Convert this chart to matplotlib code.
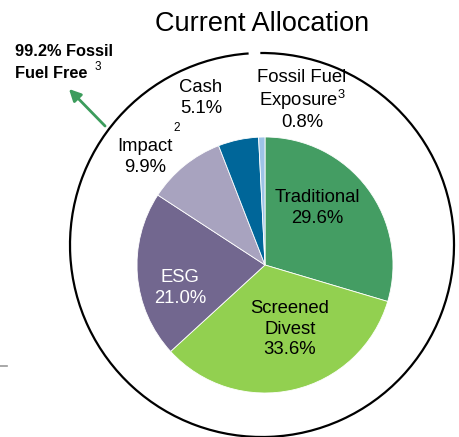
import matplotlib.pyplot as plt
from matplotlib.patches import Arc

plt.rcParams['font.family'] = ['Liberation Sans', 'DejaVu Sans']
plt.rcParams['mathtext.fontset'] = 'custom'
plt.rcParams['mathtext.rm'] = 'Liberation Sans'
plt.rcParams['mathtext.it'] = 'Liberation Sans'
plt.rcParams['mathtext.bf'] = 'Liberation Sans:bold'

# allocation, clockwise from the top
categories = ['Traditional', 'Screened\nDivest', 'ESG', 'Impact', 'Cash', 'Fossil Fuel\nExposure']
shares = [29.6, 33.6, 21.0, 9.9, 5.1, 0.8]
colors = ['#449D63', '#92D050', '#72678F', '#A8A3BF', '#006699', '#9DC3E6']
fossil_free = 99.2

W, H = 459, 437
fig = plt.figure(figsize=(W / 100, H / 100), dpi=100)
ax = fig.add_axes([0, 0, 1, 1])

def py(y):
    # pixel row -> data y
    return H - y

ax.pie(shares, colors=colors, startangle=90, counterclock=False,
       center=(265, py(265)), radius=128,
       wedgeprops=dict(edgecolor='white', linewidth=0.6))

# outer ring with a small gap at the top
ax.add_patch(Arc((262, py(245)), 384, 384, theta1=94, theta2=450.5,
                 color='black', lw=1.6))

ax.set_xlim(0, W)
ax.set_ylim(0, H)
ax.set_aspect('equal')
ax.axis('off')

ax.text(262, py(24), 'Current Allocation', ha='center', va='center', fontsize=19.5)

fs = 13.3
ls = 1.25
ax.text(317, py(208), '%s\n%.1f%%' % (categories[0], shares[0]),
        ha='center', va='center', fontsize=fs, linespacing=ls)
ax.text(290, py(329), '%s\n%.1f%%' % (categories[1], shares[1]),
        ha='center', va='center', fontsize=fs, linespacing=ls)
ax.text(180, py(288), '%s\n%.1f%%' % (categories[2], shares[2]),
        ha='center', va='center', fontsize=fs, color='white', linespacing=ls)
ax.text(145, py(157), '%s\n%.1f%%' % (categories[3], shares[3]),
        ha='center', va='center', fontsize=fs, linespacing=ls)
ax.text(177, py(128), '2', ha='center', va='center', fontsize=8.5)
ax.text(201, py(98), '%s\n%.1f%%' % (categories[4], shares[4]),
        ha='center', va='center', fontsize=fs, linespacing=ls)
ax.text(302, py(100), 'Fossil Fuel\nExposure$^{3}$\n%.1f%%' % shares[5],
        ha='center', va='center', fontsize=fs, linespacing=1.12)

ax.text(15, py(52), '%.1f%% Fossil' % fossil_free,
        ha='left', va='center', fontsize=11.8, fontweight='bold')
ax.text(15, py(73), 'Fuel Free', ha='left', va='center', fontsize=11.8, fontweight='bold')
ax.text(95, py(67), '3', ha='left', va='center', fontsize=8.5)

ax.annotate('', xy=(67, py(87)), xytext=(107, py(128)),
            arrowprops=dict(arrowstyle='-|>,head_length=0.7,head_width=0.35',
                            color='#3C9C5C', lw=2))

ax.plot([0, 7], [py(366), py(366)], color='#999999', lw=1.2)

fig.savefig('out.png', dpi=100)
